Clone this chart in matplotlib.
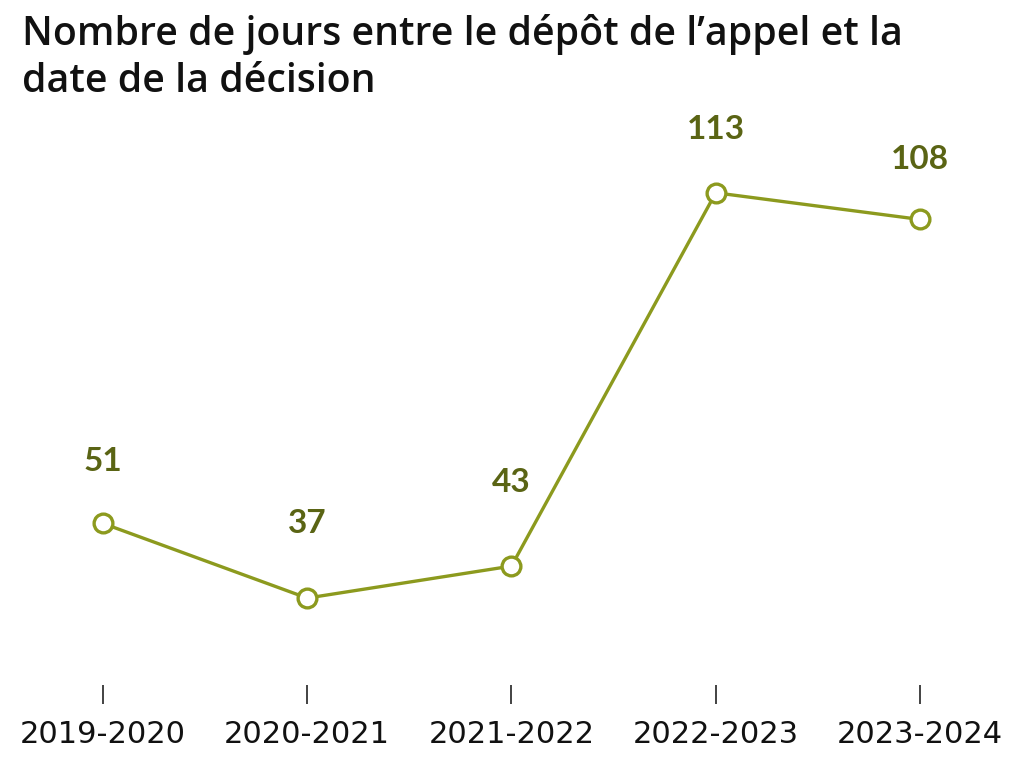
import numpy as np
import matplotlib
matplotlib.use('Agg')
import matplotlib.pyplot as plt

# Données
periodes = ['2019-2020', '2020-2021', '2021-2022', '2022-2023', '2023-2024']
jours = [51, 37, 43, 113, 108]

# décalage vertical des étiquettes (en pixels)
label_dy = [62, 75, 84, 63, 60]

line_color = '#8c9a1e'
label_color = '#5a6414'

plt.rcParams['font.family'] = ['Lato', 'DejaVu Sans']

fig = plt.figure(figsize=(10.24, 7.68), dpi=100)
ax = fig.add_axes([0, 1 - 685 / 768, 1, (685 - 100) / 768])

x = np.arange(len(periodes))
ax.plot(x, jours, color=line_color, lw=2.4, marker='o', ms=13.5,
        mfc='white', mec=line_color, mew=2.4, zorder=3)

for xi, v, dy in zip(x, jours, label_dy):
    ax.annotate(str(v), (xi, v), xytext=(0, dy * 0.72), textcoords='offset points',
                ha='center', va='center', fontsize=24, fontweight='bold',
                color=label_color)

ax.set_xlim(-0.504, 4.509)
ax.set_ylim(20.7, 130.4)
ax.set_xticks(x)
ax.set_xticklabels(periodes, fontsize=22, color='#111111',
                   family=['DejaVu Sans'])
ax.tick_params(axis='x', length=14, width=1.2, color='#222222', pad=11, direction='out')
ax.set_yticks([])
for s in ax.spines.values():
    s.set_visible(False)

fig.text(22 / 1024, 1 - 14 / 768,
         "Nombre de jours entre le dépôt de l’appel et la\ndate de la décision",
         ha='left', va='top', fontsize=28.3, fontweight='semibold', color='#111111',
         family=['Open Sans', 'DejaVu Sans'], linespacing=1.25)

fig.savefig('out.png', dpi=100)
